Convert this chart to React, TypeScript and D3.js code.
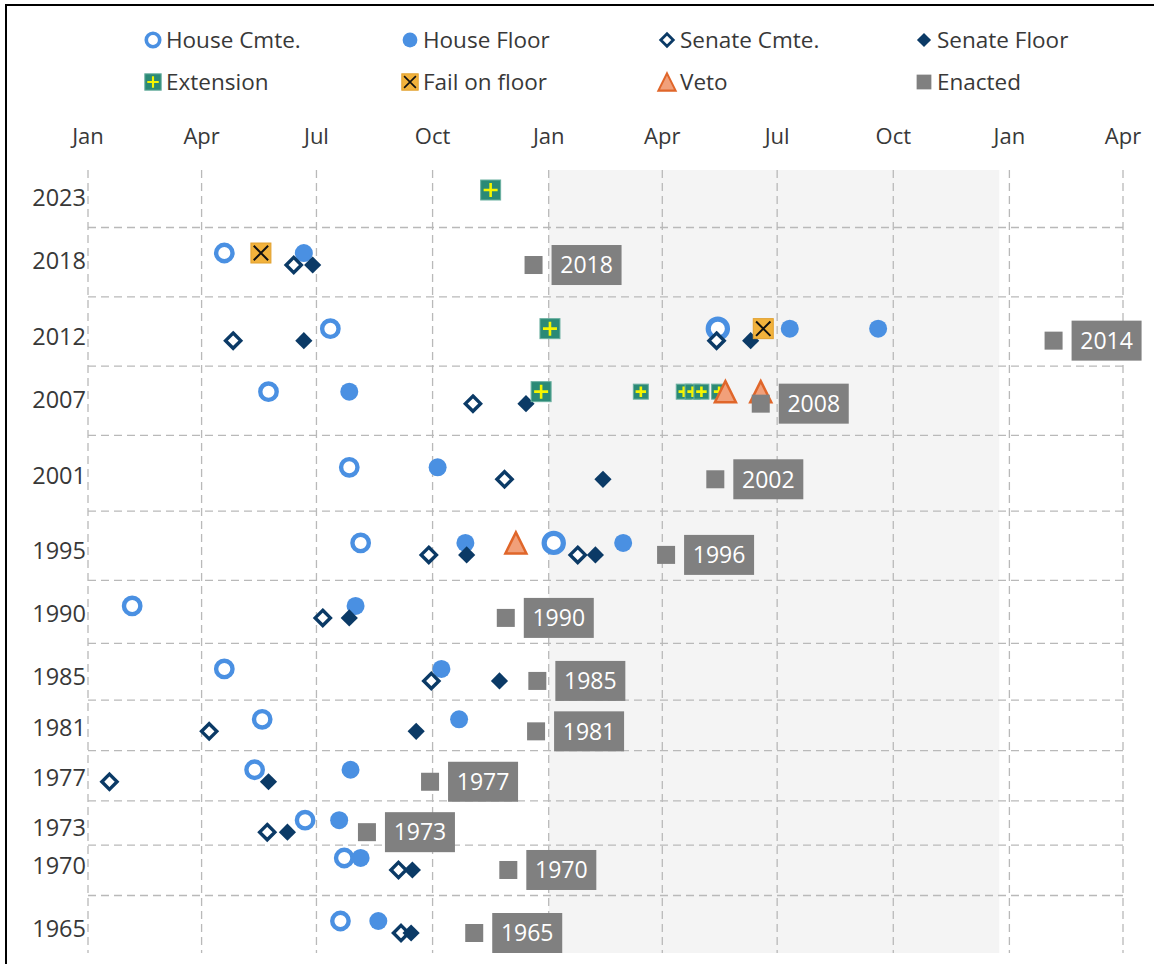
import React from "react";
import * as d3 from "d3";

// one row per farm bill cycle, labelled by the year it started
const rowYears = [2023, 2018, 2012, 2007, 2001, 1995, 1990, 1985, 1981, 1977, 1973, 1970, 1965];

// [row, date]
const houseCmte: [number, string][] = [
  [2018, "2018-04-19"], [2012, "2012-07-12"], [2007, "2007-05-24"],
  [2001, "2001-07-27"], [1995, "1995-08-05"], [1990, "1990-02-05"],
  [1985, "1985-04-19"], [1981, "1981-05-19"], [1977, "1977-05-13"], [1973, "1973-06-22"],
  [1970, "1970-07-23"], [1965, "1965-07-20"],
];
// bills reported again in the second session
const houseCmteAgain: [number, string][] = [[2012, "2013-05-15"], [1995, "1996-01-05"]];
const houseFloor: [number, string][] = [
  [2018, "2018-06-21"], [2012, "2013-07-11"], [2012, "2013-09-19"], [2007, "2007-07-27"],
  [2001, "2001-10-05"], [1995, "1995-10-27"], [1995, "1996-02-29"], [1990, "1990-08-01"],
  [1985, "1985-10-08"], [1981, "1981-10-22"], [1977, "1977-07-28"], [1973, "1973-07-19"],
  [1970, "1970-08-05"], [1965, "1965-08-19"],
];
const senateCmte: [number, string][] = [
  [2018, "2018-06-13"], [2012, "2012-04-26"], [2012, "2013-05-14"], [2007, "2007-11-02"],
  [2001, "2001-11-27"], [1995, "1995-09-28"], [1995, "1996-01-24"], [1990, "1990-07-06"],
  [1985, "1985-09-30"], [1981, "1981-04-07"], [1977, "1977-01-18"], [1973, "1973-05-23"],
  [1970, "1970-09-04"], [1965, "1965-09-06"],
];
const senateFloor: [number, string][] = [
  [2018, "2018-06-28"], [2012, "2012-06-21"], [2012, "2013-06-10"], [2007, "2007-12-14"],
  [2001, "2002-02-13"], [1995, "1995-10-28"], [1995, "1996-02-07"], [1990, "1990-07-27"],
  [1985, "1985-11-23"], [1981, "1981-09-18"], [1977, "1977-05-24"], [1973, "1973-06-08"],
  [1970, "1970-09-15"], [1965, "1965-09-14"],
];
const extension: [number, string][] = [
  [2023, "2023-11-16"], [2012, "2013-01-02"], [2007, "2007-12-26"],
];
const shortExtension: [number, string][] = [
  [2007, "2008-03-15"], [2007, "2008-04-18"], [2007, "2008-04-25"], [2007, "2008-05-02"],
  [2007, "2008-05-16"],
];
const failOnFloor: [number, string][] = [[2018, "2018-05-18"], [2012, "2013-06-20"]];
const veto: [number, string][] = [[1995, "1995-12-06"], [2007, "2008-05-21"], [2007, "2008-06-18"]];
// [row, date, label]
const enacted: [number, string, string][] = [
  [2018, "2018-12-20", "2018"], [2012, "2014-02-05", "2014"], [2007, "2008-06-18", "2008"],
  [2001, "2002-05-13", "2002"], [1995, "1996-04-04", "1996"], [1990, "1990-11-28", "1990"],
  [1985, "1985-12-23", "1985"], [1981, "1981-12-22", "1981"], [1977, "1977-09-29", "1977"],
  [1973, "1973-08-10", "1973"], [1970, "1970-11-30", "1970"], [1965, "1965-11-03", "1965"],
];

const monthLabels = ["Jan", "Apr", "Jul", "Oct", "Jan", "Apr", "Jul", "Oct", "Jan", "Apr"];
const legendNames = [
  "House Cmte.", "House Floor", "Senate Cmte.", "Senate Floor",
  "Extension", "Fail on floor", "Veto", "Enacted",
];
const legendKinds = [
  "houseCmte", "houseFloor", "senateCmte", "senateFloor",
  "extension", "fail", "veto", "enacted",
];

const BLUE = "#4a90e2";
const NAVY = "#0b3a66";
const TEAL = "#2b8a76";
const GRID = "#b9b9b9";
const INK = "#383838";
const FONT = "'Open Sans', Lato, sans-serif";

const BASE = 2001; // non-leap reference year for the x axis
const x = d3
  .scaleTime()
  .domain([new Date(BASE, 0, 1), new Date(BASE + 2, 3, 1)])
  .range([88, 1123]);
const y = d3.scaleLinear().domain([1965, 2023]).range([927, 196]);

const top = 170;
const bottom = 953;

function toX(row: number, iso: string) {
  const [yy, mm, dd] = iso.split("-").map(Number);
  return x(new Date(BASE + (yy - row), mm - 1, dd));
}

function Marker({ kind, cx, cy, s = 1 }: { kind: string; cx: number; cy: number; s?: number }) {
  if (kind === "houseCmte")
    return <circle cx={cx} cy={cy} r={8.2 * s} fill="#fff" stroke={BLUE} strokeWidth={4.4 * s} />;
  if (kind === "houseCmteAgain")
    return <circle cx={cx} cy={cy} r={9.6 * s} fill="#fff" stroke={BLUE} strokeWidth={5.2 * s} />;
  if (kind === "houseFloor") return <circle cx={cx} cy={cy} r={9 * s} fill={BLUE} />;
  if (kind === "senateCmte" || kind === "senateFloor") {
    const h = (kind === "senateCmte" ? 7.6 : 8.6) * s;
    const d = `M${cx},${cy - h}L${cx + h},${cy}L${cx},${cy + h}L${cx - h},${cy}Z`;
    return kind === "senateCmte" ? (
      <path d={d} fill="#fff" stroke={NAVY} strokeWidth={3.4 * s} />
    ) : (
      <path d={d} fill={NAVY} />
    );
  }
  if (kind === "extension" || kind === "shortExtension") {
    const h = (kind === "extension" ? 10 : 7.5) * s;
    const p = h * 0.7;
    return (
      <g>
        <rect x={cx - h} y={cy - h} width={2 * h} height={2 * h} fill={TEAL} stroke="#6bb0a0" strokeWidth={1} />
        <path d={`M${cx - p},${cy}H${cx + p}M${cx},${cy - p}V${cy + p}`} stroke="#f5f500" strokeWidth={2.6 * s} />
      </g>
    );
  }
  if (kind === "fail") {
    const h = 10 * s;
    const p = h * 0.72;
    return (
      <g>
        <rect x={cx - h} y={cy - h} width={2 * h} height={2 * h} fill="#f2b23c" stroke="#e0a030" strokeWidth={1} />
        <path d={`M${cx - p},${cy - p}L${cx + p},${cy + p}M${cx + p},${cy - p}L${cx - p},${cy + p}`} stroke="#111" strokeWidth={2 * s} />
      </g>
    );
  }
  if (kind === "veto") {
    const w = 10.5 * s;
    return (
      <path
        d={`M${cx},${cy - w}L${cx + w},${cy + w}L${cx - w},${cy + w}Z`}
        fill="#f1a07a"
        stroke="#e0662a"
        strokeWidth={2.5 * s}
      />
    );
  }
  const h = 9 * s;
  return <rect x={cx - h} y={cy - h} width={2 * h} height={2 * h} fill="#808080" />;
}

export default function App() {
  const ticks = x.ticks(d3.timeMonth.every(3)!);
  const separators = rowYears.slice(1).map((yr, i) => (yr + rowYears[i]) / 2);
  const houseOff = -6;
  const senateOff = 6;

  const series: { kind: string; data: [number, string][]; off: number }[] = [
    { kind: "houseCmte", data: houseCmte, off: houseOff },
    { kind: "houseCmteAgain", data: houseCmteAgain, off: houseOff },
    { kind: "houseFloor", data: houseFloor, off: houseOff },
    { kind: "senateCmte", data: senateCmte, off: senateOff },
    { kind: "senateFloor", data: senateFloor, off: senateOff },
    { kind: "extension", data: extension, off: houseOff },
    { kind: "shortExtension", data: shortExtension, off: houseOff },
    { kind: "fail", data: failOnFloor, off: houseOff },
    { kind: "veto", data: veto, off: houseOff },
  ];

  return (
    <svg
      width={1154}
      height={964}
      style={{ position: "absolute", left: 0, top: 0, background: "#fff" }}
      fontFamily={FONT}
    >
      <rect x={6} y={5} width={1160} height={970} fill="#fff" stroke="#000" strokeWidth={2} />

      {/* legend */}
      {legendNames.map((name, i) => {
        const col = i % 4;
        const row = Math.floor(i / 4);
        const mx = 153 + col * 257;
        const my = 40 + row * 42;
        return (
          <g key={name}>
            <Marker kind={legendKinds[i]} cx={mx} cy={my} s={0.82} />
            <text x={mx + 13} y={my} dy="0.35em" fontSize={22.5} fill={INK}>
              {name}
            </text>
          </g>
        );
      })}

      {/* second-session shading */}
      <rect
        x={x(new Date(BASE + 1, 0, 1))}
        y={top}
        width={x(new Date(BASE + 1, 11, 24)) - x(new Date(BASE + 1, 0, 1))}
        height={bottom - top}
        fill="#f4f4f4"
      />

      {/* grid */}
      {ticks.map((t, i) => (
        <g key={i}>
          <line x1={x(t)} x2={x(t)} y1={top} y2={bottom} stroke={GRID} strokeWidth={1.3} strokeDasharray="8,5" />
          <text x={x(t)} y={136} textAnchor="middle" dy="0.35em" fontSize={22} fill={INK}>
            {monthLabels[i]}
          </text>
        </g>
      ))}
      {separators.map((v) => (
        <line key={v} x1={88} x2={1123} y1={y(v)} y2={y(v)} stroke={GRID} strokeWidth={1.3} strokeDasharray="8,5" />
      ))}

      {/* row labels */}
      {rowYears.map((yr) => (
        <text key={yr} x={86} y={y(yr) + 2} textAnchor="end" dy="0.35em" fontSize={23.5} fill={INK}>
          {yr}
        </text>
      ))}

      {/* events */}
      {series.map((s) =>
        s.data.map(([row, date], i) => (
          <Marker key={s.kind + i} kind={s.kind} cx={toX(row, date)} cy={y(row) + s.off} />
        ))
      )}
      {enacted.map(([row, date]) => (
        <Marker key={date} kind="enacted" cx={toX(row, date)} cy={y(row) + senateOff} />
      ))}
      {enacted.map(([row, date, label]) => {
        const bx = toX(row, date) + 18;
        const by = y(row) + senateOff;
        return (
          <g key={label}>
            <rect x={bx} y={by - 20} width={70} height={40} fill="#808080" />
            <text x={bx + 35} y={by} dy="0.36em" textAnchor="middle" fontSize={23} fill="#fff">
              {label}
            </text>
          </g>
        );
      })}
    </svg>
  );
}
